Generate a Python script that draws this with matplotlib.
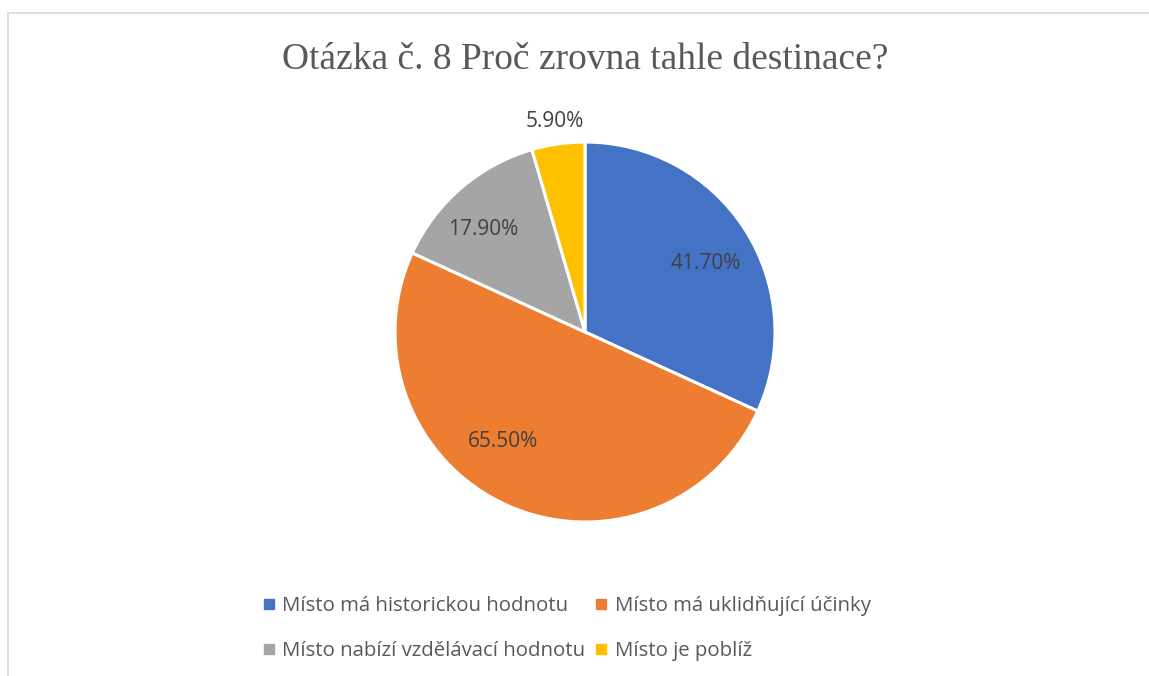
import matplotlib
matplotlib.use("Agg")
import matplotlib.pyplot as plt
import numpy as np
from matplotlib.patches import Rectangle
from matplotlib.lines import Line2D

title = "Otázka č. 8 Proč zrovna tahle destinace?"
categories = ["Místo má historickou hodnotu", "Místo má uklidňující účinky",
              "Místo nabízí vzdělávací hodnotu", "Místo je poblíž"]
values = [41.7, 65.5, 17.9, 5.9]
colors = ["#4472C4", "#ED7D31", "#A5A5A5", "#FFC000"]

# label placement (radius factor, angle nudge in degrees)
lab_r = [0.73, 0.72, 0.76, 1.12]
lab_da = [-3, -12, 4, 0]

fig = plt.figure(figsize=(11.49, 6.76), dpi=100)
fig.patches.append(Rectangle((8/1149, -0.1), 2, 1 - 13/676 + 0.1, transform=fig.transFigure,
                             fill=False, edgecolor="#d9d9d9", linewidth=1.2))

fig.text(0.509, 0.911, title, ha="center", va="center", fontsize=27,
         family="Liberation Serif", color="#595959")

ax = fig.add_axes([0.3438, 0.2278, 0.3307, 0.5621])
wedges, _ = ax.pie(values, colors=colors, startangle=90, counterclock=False,
                   wedgeprops=dict(edgecolor="white", linewidth=2.2))
ax.set_xlim(-1, 1)
ax.set_ylim(-1, 1)
ax.set_aspect("equal")
ax.axis("off")

for w, v, r, da in zip(wedges, values, lab_r, lab_da):
    mid = np.deg2rad((w.theta1 + w.theta2) / 2 + da)
    ax.text(r*np.cos(mid), r*np.sin(mid), f"{v:.2f}%", ha="center", va="center",
            fontsize=15, family="Open Sans", color="#404040")

# legend filled row by row
order = [0, 2, 1, 3]
handles = [Line2D([], [], marker="s", linestyle="", markersize=7, color=colors[i]) for i in order]
fig.legend(handles, [categories[i] for i in order], ncol=2, loc="center",
           bbox_to_anchor=(0.493, 0.070), frameon=False, handlelength=0.6,
           handletextpad=0.35, columnspacing=0.5, labelspacing=1.25,
           prop=dict(family="Open Sans", size=14.7), labelcolor="#595959")

fig.savefig("out.png", dpi=100)
